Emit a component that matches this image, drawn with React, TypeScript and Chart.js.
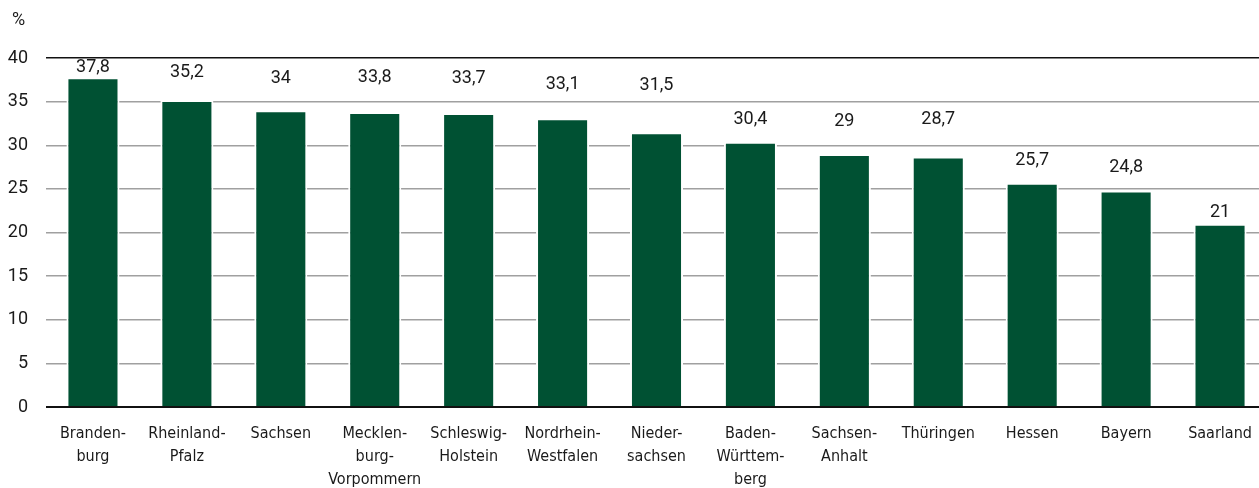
import React, { useEffect, useRef } from "react";
import { Chart, registerables } from "chart.js";

Chart.register(...registerables);

const categories: string[][] = [
  ["Branden-", "burg"],
  ["Rheinland-", "Pfalz"],
  ["Sachsen"],
  ["Mecklen-", "burg-", "Vorpommern"],
  ["Schleswig-", "Holstein"],
  ["Nordrhein-", "Westfalen"],
  ["Nieder-", "sachsen"],
  ["Baden-", "Württem-", "berg"],
  ["Sachsen-", "Anhalt"],
  ["Thüringen"],
  ["Hessen"],
  ["Bayern"],
  ["Saarland"],
];
const values: number[] = [37.8, 35.2, 34, 33.8, 33.7, 33.1, 31.5, 30.4, 29, 28.7, 25.7, 24.8, 21];
const yTicks: number[] = [0, 5, 10, 15, 20, 25, 30, 35, 40];
const unitLabel = "%";
// height (in axis units) at which each value label is centred, as placed in the original
const labelLevels: number[] = [38.95, 38.3, 37.7, 37.8, 37.7, 37.0, 36.9, 33.0, 32.7, 32.9, 28.3, 27.4, 22.3];

const LABEL_FONT = "'DejaVu Sans Condensed', 'DejaVu Sans', sans-serif";
const NUM_FONT = "Roboto, 'Noto Sans', sans-serif";
const W = 1259;
const H = 490;

const valueLabels = {
  id: "valueLabels",
  afterDatasetsDraw(chart: any) {
    const ctx = chart.ctx;
    const meta = chart.getDatasetMeta(0);
    const yScale = chart.scales.y;
    ctx.save();
    ctx.font = `18px ${NUM_FONT}`;
    ctx.fillStyle = "#1a1a1a";
    ctx.textAlign = "center";
    ctx.textBaseline = "middle";
    meta.data.forEach((bar: any, i: number) => {
      const txt = String(values[i]).replace(".", ",");
      ctx.fillText(txt, bar.x, yScale.getPixelForValue(labelLevels[i]));
    });
    ctx.font = `18px ${NUM_FONT}`;
    ctx.textAlign = "left";
    ctx.fillText(unitLabel, 4, 20);
    ctx.restore();
  },
};

export default function App() {
  const ref = useRef<HTMLCanvasElement | null>(null);
  useEffect(() => {
    const chart = new Chart(ref.current!, {
      type: "bar",
      data: {
        labels: categories,
        datasets: [
          {
            data: values,
            backgroundColor: "#005133",
            borderColor: "#ffffff",
            borderWidth: 2,
            categoryPercentage: 1,
            barPercentage: 0.565,
          },
        ],
      },
      options: {
        animation: false,
        responsive: false,
        maintainAspectRatio: false,
        layout: { padding: { top: 58, right: 0, bottom: 0, left: 0 } },
        plugins: { legend: { display: false }, tooltip: { enabled: false } },
        scales: {
          x: {
            grid: { display: false },
            border: { display: false },
            afterFit: (s: any) => {
              s.height = 83;
              s.paddingLeft = 0;
              s.paddingRight = 0;
            },
            ticks: {
              color: "#1a1a1a",
              font: { family: LABEL_FONT, size: 16, lineHeight: 1.45 },
              padding: 7,
              maxRotation: 0,
              autoSkip: false,
            },
          },
          y: {
            min: 0,
            max: 40,
            afterBuildTicks: (axis: any) => {
              axis.ticks = yTicks.map((v) => ({ value: v }));
            },
            afterFit: (s: any) => {
              s.width = 38;
            },
            border: { display: false },
            grid: {
              drawTicks: false,
              color: (c: any) => (c.tick && (c.tick.value === 0 || c.tick.value === 40) ? "#111" : "#a0a0a0"),
              lineWidth: (c: any) => (c.tick && c.tick.value === 0 ? 2 : 1.5),
            },
            ticks: {
              color: "#1a1a1a",
              font: { family: NUM_FONT, size: 18 },
              padding: 18,
            },
          },
        },
      },
      plugins: [valueLabels],
    });
    return () => chart.destroy();
  }, []);
  return (
    <div style={{ position: "absolute", left: 8, top: 0, width: W, height: H }}>
      <canvas ref={ref} width={W} height={H} style={{ width: W, height: H }} />
    </div>
  );
}
